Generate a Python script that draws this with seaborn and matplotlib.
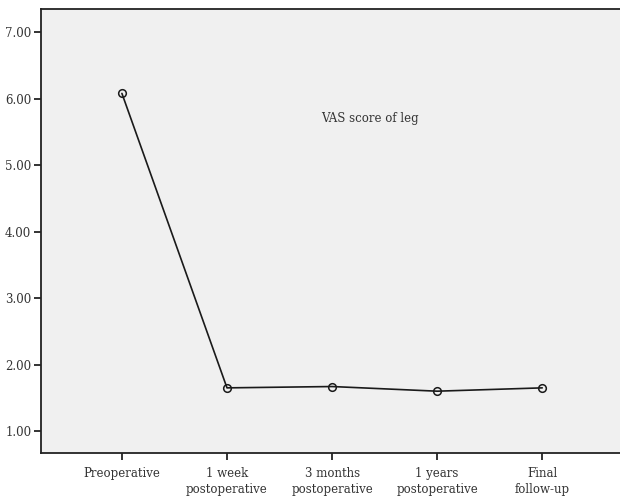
import numpy as np
import pandas as pd
import matplotlib
matplotlib.use('Agg')
import matplotlib.pyplot as plt
import seaborn as sns

# Data
stages = ['Preoperative', '1 week\npostoperative', '3 months\npostoperative',
          '1 years\npostoperative', 'Final\nfollow-up']
vas_leg = [6.08, 1.65, 1.67, 1.60, 1.65]
y_ticks = [1.0, 2.0, 3.0, 4.0, 5.0, 6.0, 7.0]

df = pd.DataFrame({'pos': np.arange(len(stages)), 'VAS': vas_leg})

sns.set_style('ticks')
plt.rcParams['font.family'] = ['DejaVu Serif']

fig = plt.figure(figsize=(6.2, 5.01), dpi=100)
ax = fig.add_axes([41 / 620, 48 / 501, 1 - 41 / 620, 444 / 501])
ax.set_facecolor('#f0f0f0')

sns.lineplot(data=df, x='pos', y='VAS', ax=ax, color='#1a1a1a', linewidth=1.2,
             marker='o', markersize=5.5, markerfacecolor='none',
             markeredgecolor='#1a1a1a', markeredgewidth=1.1)

ax.set_xlim(-0.77, 4.74)
ax.set_ylim(0.67, 7.35)
ax.set_xticks(range(len(stages)))
ax.set_xticklabels(stages, fontsize=8.5, color='#333333', linespacing=1.3)
ax.set_yticks(y_ticks)
ax.set_yticklabels([f'{v:.2f}' for v in y_ticks], fontsize=8.5, color='#333333')
ax.set_xlabel('')
ax.set_ylabel('')

ax.tick_params(axis='both', direction='out', length=5, width=1.4, color='#333333', pad=2)
ax.tick_params(axis='x', pad=5)
for side in ['left', 'bottom', 'top']:
    ax.spines[side].set_color('#222222')
    ax.spines[side].set_linewidth(1.3)
ax.spines['right'].set_visible(False)

ax.text(2.36, 5.71, 'VAS score of leg', fontsize=8.5, color='#333333',
        ha='center', va='center')

fig.savefig('out.png', dpi=100)
